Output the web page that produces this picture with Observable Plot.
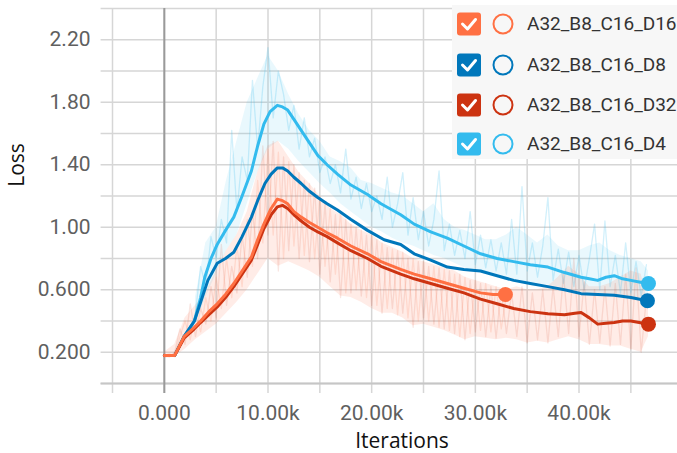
<!DOCTYPE html>
<html><head><meta charset="utf-8">
<script src="https://cdn.jsdelivr.net/npm/d3@7"></script>
<script src="https://cdn.jsdelivr.net/npm/@observablehq/plot@0.6"></script>
<style>
html,body{margin:0;padding:0;background:#fff;}
#wrap{position:relative;width:677px;height:453px;overflow:hidden;}
#legend{position:absolute;left:452px;top:5px;width:225px;height:154px;background:#f7f7f7;font-family:Roboto,sans-serif;font-size:19px;color:#333;}
.row{position:absolute;left:0;height:24px;width:225px;}
.row svg{position:absolute;left:0;top:0;}
.row span{position:absolute;left:75px;top:0;line-height:24px;white-space:nowrap;}
</style></head>
<body><div id="wrap"><div id="chart"></div><div id="legend"></div></div>
<script>
// ---- series (iterations in thousands, loss) ----
const seriesNames = ["A32_B8_C16_D16", "A32_B8_C16_D8", "A32_B8_C16_D32", "A32_B8_C16_D4"];
const seriesColors = ["#ff7043", "#0077bb", "#cc3311", "#33bbee"];

const smoothD4 = [[0,0.18],[1.0,0.18],[1.9,0.30],[2.9,0.40],[3.5,0.55],[3.9,0.68],[4.5,0.80],[5.1,0.89],[5.9,0.98],[6.7,1.065],[7.5,1.20],[8.4,1.36],[9.0,1.52],[9.6,1.66],[10.2,1.74],[10.9,1.78],[11.4,1.77],[11.9,1.75],[12.5,1.69],[13.2,1.62],[14.0,1.54],[14.8,1.46],[15.7,1.40],[16.7,1.34],[18.0,1.27],[19.6,1.21],[20.9,1.15],[22.8,1.08],[24.1,1.02],[25.7,0.97],[27.3,0.93],[28.9,0.88],[30.5,0.83],[32.1,0.80],[33.7,0.78],[35.3,0.76],[37.0,0.745],[38.6,0.71],[40.2,0.68],[41.0,0.67],[41.8,0.66],[42.6,0.68],[43.4,0.69],[44.2,0.67],[45.0,0.66],[45.8,0.65],[46.7,0.64]];
const smoothD8 = [[0,0.18],[1.0,0.18],[1.9,0.30],[2.9,0.40],[3.5,0.52],[4.2,0.66],[5.1,0.77],[5.9,0.80],[6.7,0.84],[7.5,0.94],[8.4,1.065],[9.0,1.17],[9.7,1.28],[10.3,1.34],[10.9,1.38],[11.4,1.38],[11.9,1.36],[12.5,1.32],[13.2,1.28],[14.0,1.23],[14.8,1.19],[15.7,1.15],[16.7,1.11],[18.0,1.05],[19.6,0.98],[21.2,0.92],[22.8,0.89],[24.1,0.83],[25.7,0.79],[27.3,0.745],[28.9,0.73],[30.5,0.72],[32.1,0.69],[33.7,0.66],[35.3,0.64],[37.0,0.62],[38.6,0.60],[40.2,0.575],[41.8,0.57],[43.4,0.565],[45.0,0.55],[46.6,0.53]];
const smoothD16 = [[0,0.18],[1.0,0.18],[1.9,0.30],[2.9,0.36],[3.5,0.40],[4.3,0.46],[5.1,0.51],[5.9,0.57],[6.7,0.64],[7.5,0.72],[8.4,0.81],[9.0,0.92],[9.6,1.02],[10.3,1.12],[10.9,1.18],[11.4,1.17],[11.9,1.15],[12.5,1.10],[13.2,1.065],[14.0,1.03],[14.8,1.00],[15.7,0.965],[16.7,0.93],[18.0,0.88],[19.6,0.83],[20.9,0.78],[22.8,0.73],[24.1,0.70],[25.7,0.67],[27.3,0.64],[28.9,0.61],[30.5,0.58],[31.7,0.57],[32.9,0.57]];
const smoothD32 = [[0,0.18],[1.0,0.18],[1.9,0.29],[2.9,0.35],[3.5,0.39],[4.3,0.44],[5.1,0.49],[5.9,0.55],[6.7,0.62],[7.5,0.70],[8.4,0.79],[9.0,0.89],[9.6,0.99],[10.3,1.08],[10.9,1.13],[11.4,1.14],[11.9,1.12],[12.5,1.08],[13.2,1.04],[14.0,1.00],[14.8,0.97],[15.7,0.94],[16.7,0.90],[18.0,0.85],[19.6,0.80],[20.9,0.75],[22.8,0.70],[24.1,0.67],[25.7,0.64],[27.3,0.61],[28.9,0.58],[30.5,0.54],[32.1,0.51],[33.7,0.48],[35.3,0.46],[37.0,0.447],[38.6,0.44],[39.6,0.45],[40.2,0.455],[41.0,0.42],[41.8,0.38],[42.6,0.385],[43.4,0.39],[44.2,0.40],[45.0,0.40],[45.8,0.39],[46.7,0.38]];

// raw (unsmoothed) traces
const rawD4 = [[3.0,0.45],[3.5,0.75],[4.0,0.62],[4.5,0.94],[5.0,0.80],[5.5,1.05],[6.0,0.90],[6.5,1.62],[7.0,1.10],[7.5,1.45],[8.0,1.30],[8.5,1.94],[9.0,1.50],[9.5,1.90],[10.0,2.15],[10.5,1.70],[11.0,2.00],[11.5,1.85],[12.0,1.62],[12.5,1.78],[13.0,1.50],[13.5,1.70],[14.0,1.45],[14.5,1.57],[15.0,1.35],[15.5,1.45],[16.0,1.28],[16.5,1.40],[17.0,1.22],[17.5,1.50],[18.0,1.18],[18.5,1.32],[19.0,1.12],[19.5,1.28],[20.0,1.10],[20.5,1.20],[21.0,1.05],[21.5,1.32],[22.0,1.00],[22.5,1.15],[23.0,1.35],[23.5,0.95],[24.0,1.19],[24.5,0.92],[25.0,1.10],[25.5,0.88],[26.0,1.05],[26.5,1.36],[27.0,0.85],[27.5,1.02],[28.0,0.82],[28.5,0.98],[29.0,0.80],[29.5,1.10],[30.0,0.76],[30.5,0.95],[31.0,0.74],[31.5,0.92],[32.0,0.72],[32.5,0.90],[33.0,0.70],[33.5,1.05],[34.0,0.70],[34.5,1.26],[35.0,0.72],[35.5,0.90],[36.0,0.68],[36.5,0.88],[37.0,1.19],[37.5,0.66],[38.0,0.86],[38.5,0.64],[39.0,0.84],[39.5,0.62],[40.0,0.82],[40.5,0.60],[41.0,0.80],[41.5,1.02],[42.0,0.60],[42.5,1.04],[43.0,0.62],[43.5,0.82],[44.0,0.58],[44.5,0.90],[45.0,0.58],[45.5,0.78],[46.0,0.56],[46.5,0.76]];
const rawD32 = [[0.0,0.18],[0.5,0.17],[1.0,0.20],[1.5,0.35],[2.0,0.25],[2.5,0.51],[3.0,0.30],[3.5,0.48],[4.0,0.38],[4.5,0.62],[5.0,0.42],[5.5,0.89],[6.0,0.50],[6.5,0.75],[7.0,0.58],[7.5,0.95],[8.0,0.68],[8.5,1.10],[9.0,0.80],[9.5,1.52],[10.0,0.95],[10.5,1.55],[11.0,0.72],[11.5,1.45],[12.0,0.85],[12.5,1.40],[13.0,0.80],[13.5,1.30],[14.0,0.78],[14.5,1.25],[15.0,0.70],[15.5,1.15],[16.0,0.65],[16.5,1.08],[17.0,0.55],[17.5,1.05],[18.0,0.58],[18.5,1.00],[19.0,0.56],[19.5,0.95],[20.0,0.50],[20.5,0.92],[21.0,0.45],[21.5,0.87],[22.0,0.48],[22.5,0.85],[23.0,0.45],[23.5,0.80],[24.0,0.36],[24.5,0.78],[25.0,0.42],[25.5,0.75],[26.0,0.38],[26.5,0.74],[27.0,0.35],[27.5,0.72],[28.0,0.32],[28.5,0.70],[29.0,0.28],[29.5,0.66],[30.0,0.33],[30.5,0.64],[31.0,0.30],[31.5,0.62],[32.0,0.29],[32.5,0.60],[33.0,0.32],[33.5,0.58],[34.0,0.30],[34.5,0.62],[35.0,0.26],[35.5,0.58],[36.0,0.28],[36.5,0.60],[37.0,0.26],[37.5,0.62],[38.0,0.30],[38.5,0.70],[39.0,0.32],[39.5,0.80],[40.0,0.30],[40.5,0.65],[41.0,0.25],[41.5,0.60],[42.0,0.26],[42.5,0.62],[43.0,0.24],[43.5,0.64],[44.0,0.25],[44.5,0.70],[45.0,0.22],[45.5,0.74],[46.0,0.20],[46.5,0.55]];
const rawD16 = [[0.0,0.18],[0.5,0.19],[1.0,0.17],[1.5,0.30],[2.0,0.40],[2.5,0.28],[3.0,0.45],[3.5,0.33],[4.0,0.55],[4.5,0.40],[5.0,0.68],[5.5,0.48],[6.0,0.80],[6.5,0.55],[7.0,0.88],[7.5,0.62],[8.0,1.05],[8.5,0.75],[9.0,1.30],[9.5,0.90],[10.0,1.50],[10.5,0.95],[11.0,1.48],[11.5,0.80],[12.0,1.42],[12.5,0.88],[13.0,1.35],[13.5,0.82],[14.0,1.28],[14.5,0.80],[15.0,1.20],[15.5,0.75],[16.0,1.12],[16.5,0.70],[17.0,1.10],[17.5,0.58],[18.0,1.02],[18.5,0.60],[19.0,0.98],[19.5,0.55],[20.0,0.95],[20.5,0.50],[21.0,0.90],[21.5,0.48],[22.0,0.86],[22.5,0.44],[23.0,0.84],[23.5,0.42],[24.0,0.80],[24.5,0.40],[25.0,0.78],[25.5,0.40],[26.0,0.75],[26.5,0.36],[27.0,0.73],[27.5,0.34],[28.0,0.70],[28.5,0.30],[29.0,0.68],[29.5,0.32],[30.0,0.66],[30.5,0.34],[31.0,0.64],[31.5,0.33],[32.0,0.62],[32.5,0.35],[33.0,0.57]];

// dense raw spread read as bands: [iteration_k, low, high]
const bandD4 = [[3,0.38,0.55],[4,0.55,0.90],[5,0.70,1.00],[6,0.85,1.30],[7,0.95,1.55],[8,1.15,1.80],[9,1.35,1.95],[10,1.50,2.10],[11,1.55,2.00],[12,1.50,1.85],[13,1.42,1.72],[14,1.35,1.62],[15,1.28,1.55],[16,1.22,1.45],[17,1.15,1.42],[18,1.10,1.38],[19,1.05,1.30],[20,1.00,1.28],[21,0.97,1.25],[22,0.93,1.22],[23,0.90,1.20],[24,0.88,1.15],[25,0.85,1.10],[26,0.82,1.15],[27,0.80,1.05],[28,0.77,1.00],[29,0.74,0.98],[30,0.72,0.95],[31,0.70,0.92],[32,0.68,0.92],[33,0.66,0.95],[34,0.66,1.00],[35,0.65,0.95],[36,0.64,0.90],[37,0.63,0.95],[38,0.62,0.88],[39,0.60,0.85],[40,0.58,0.85],[41,0.57,0.88],[42,0.57,0.90],[43,0.57,0.85],[44,0.56,0.82],[45,0.55,0.80],[46,0.55,0.78],[46.7,0.56,0.72]];
const bandRed = [[0,0.16,0.20],[1,0.17,0.25],[2,0.22,0.42],[3,0.28,0.50],[4,0.33,0.58],[5,0.38,0.72],[6,0.45,0.85],[7,0.52,0.95],[8,0.60,1.10],[9,0.70,1.35],[10,0.80,1.52],[11,0.75,1.55],[12,0.78,1.45],[13,0.75,1.35],[14,0.72,1.28],[15,0.68,1.20],[16,0.62,1.12],[17,0.56,1.08],[18,0.55,1.02],[19,0.52,0.98],[20,0.48,0.95],[21,0.45,0.90],[22,0.45,0.87],[23,0.42,0.84],[24,0.37,0.80],[25,0.38,0.78],[26,0.36,0.76],[27,0.34,0.74],[28,0.31,0.72],[29,0.28,0.68],[30,0.30,0.66],[31,0.29,0.64],[32,0.28,0.62],[33,0.29,0.60],[34,0.28,0.62],[35,0.26,0.60],[36,0.27,0.60],[37,0.26,0.62],[38,0.28,0.68],[39,0.30,0.75],[40,0.28,0.70],[41,0.25,0.62],[42,0.25,0.62],[43,0.24,0.64],[44,0.24,0.68],[45,0.22,0.72],[46,0.20,0.70],[46.7,0.30,0.50]];

// ---- axes ----
const xGrid = [-5,0,5,10,15,20,25,30,35,40,45];
const yGrid = [0,0.2,0.4,0.6,0.8,1.0,1.2,1.4,1.6,1.8,2.0,2.2,2.4];
const xTickValues = [0,10,20,30,40];
const xTickLabels = ["0.000","10.00k","20.00k","30.00k","40.00k"];
const yTickValues = [0.2,0.6,1.0,1.4,1.8,2.2];
const yTickLabels = ["0.200","0.600","1.00","1.40","1.80","2.20"];
const xLabelMap = new Map(xTickValues.map((v,i)=>[v,xTickLabels[i]]));
const yLabelMap = new Map(yTickValues.map((v,i)=>[v,yTickLabels[i]]));

const [cD16, cD8, cD32, cD4] = seriesColors;
const lastPt = a => [a[a.length-1]];
const P = {x: d=>d[0], y: d=>d[1]};
const B = {x: d=>d[0], y1: d=>d[1], y2: d=>d[2]};

const chart = Plot.plot({
  width: 677, height: 453,
  marginLeft: 112, marginRight: 0, marginTop: 8, marginBottom: 70,
  x: {domain: [-5, 49.5], axis: null},
  y: {domain: [0, 2.4], axis: null},
  style: {background: "white", overflow: "visible"},
  marks: [
    Plot.ruleY(yGrid, {x1: -6.1, x2: 49.5, stroke: "#d6d6d6", strokeWidth: 1.5}),
    Plot.ruleX(xGrid, {y1: -0.064, y2: 2.4, stroke: "#d6d6d6", strokeWidth: 1.5}),
    Plot.ruleY([0], {x1: -6.1, x2: 49.5, stroke: "#c6c6c6", strokeWidth: 2}),
    Plot.ruleX([0], {y1: -0.064, y2: 2.4, stroke: "#9a9a9a", strokeWidth: 2}),
    Plot.areaY(bandD4, {...B, fill: cD4, fillOpacity: 0.11}),
    Plot.areaY(bandRed, {...B, fill: cD16, fillOpacity: 0.13}),
    Plot.line(rawD4, {...P, stroke: cD4, strokeOpacity: 0.22, strokeWidth: 1.3}),
    Plot.line(rawD32, {...P, stroke: cD32, strokeOpacity: 0.12, strokeWidth: 1.3}),
    Plot.line(rawD16, {...P, stroke: cD16, strokeOpacity: 0.16, strokeWidth: 1.3}),
    Plot.line(smoothD4, {...P, stroke: cD4, strokeWidth: 3, strokeLinejoin: "round"}),
    Plot.line(smoothD8, {...P, stroke: cD8, strokeWidth: 3, strokeLinejoin: "round"}),
    Plot.line(smoothD32, {...P, stroke: cD32, strokeWidth: 3, strokeLinejoin: "round"}),
    Plot.line(smoothD16, {...P, stroke: cD16, strokeWidth: 3, strokeLinejoin: "round"}),
    Plot.dot(lastPt(smoothD4), {...P, r: 7.5, fill: cD4}),
    Plot.dot(lastPt(smoothD8), {...P, r: 7.5, fill: cD8}),
    Plot.dot(lastPt(smoothD32), {...P, r: 7.5, fill: cD32}),
    Plot.dot(lastPt(smoothD16), {...P, r: 7.5, fill: cD16}),
    Plot.axisX(xTickValues, {anchor: "bottom", tickSize: 0, tickPadding: 22, tickFormat: d => xLabelMap.get(d), fontSize: 21, fill: "#5f5f5f", fontFamily: "Roboto", label: null, style: {letterSpacing: "0.6px"}}),
    Plot.axisY(yTickValues, {anchor: "left", tickSize: 0, tickPadding: 22, tickFormat: d => yLabelMap.get(d), fontSize: 21, fill: "#5f5f5f", fontFamily: "Roboto", label: null}),
    Plot.text(["Iterations"], {frameAnchor: "bottom", dy: 58, dx: 7, text: d => d, fontSize: 21, fontFamily: "Open Sans", fill: "#111", textAnchor: "middle", lineAnchor: "middle"}),
    Plot.text(["Loss"], {frameAnchor: "left", dx: -95, dy: -31, rotate: -90, text: d => d, fontSize: 21, fontFamily: "Open Sans", fill: "#111", textAnchor: "middle", lineAnchor: "middle"})
  ]
});
document.getElementById("chart").append(chart);

// ---- legend ----
const legendCenters = [19, 60, 100, 139];
const legend = document.getElementById("legend");
seriesNames.forEach((name, i) => {
  const c = seriesColors[i];
  const row = document.createElement("div");
  row.className = "row";
  row.style.top = (legendCenters[i] - 12) + "px";
  row.innerHTML = `<svg width="70" height="24"><rect x="5" y="0.5" width="24" height="23" rx="3" fill="${c}"/><polyline points="10.5,12 15.5,17 23.5,7.5" fill="none" stroke="white" stroke-width="3" stroke-linecap="round" stroke-linejoin="round"/><circle cx="51" cy="12" r="9.5" fill="none" stroke="${c}" stroke-width="2"/></svg><span>${name}</span>`;
  legend.append(row);
});
</script></body></html>
